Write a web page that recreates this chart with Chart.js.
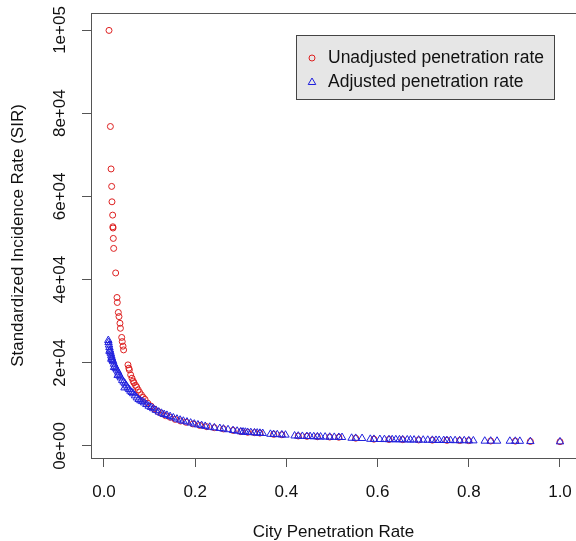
<!DOCTYPE html>
<html>
<head>
<meta charset="utf-8">
<script src="https://cdn.jsdelivr.net/npm/chart.js@4.4.1/dist/chart.umd.min.js"></script>
<style>
  html, body { margin: 0; padding: 0; background: #fff; }
  #wrap { width: 576px; height: 541px; }
</style>
</head>
<body>
<div id="wrap"><canvas id="sir-plot" width="576" height="541"></canvas></div>
<script>
// tick labels (R style)
var xTicks = [0, 0.2, 0.4, 0.6, 0.8, 1.0];
var xTickLabels = ['0.0', '0.2', '0.4', '0.6', '0.8', '1.0'];
var yTicks = [0, 20000, 40000, 60000, 80000, 100000];
var yTickLabels = ['0e+00', '2e+04', '4e+04', '6e+04', '8e+04', '1e+05'];

var seriesNames = ['Unadjusted penetration rate', 'Adjusted penetration rate'];

// unadjusted penetration rate (red circles)
var unadjRate = [0.011, 0.014, 0.0155, 0.0168, 0.0175, 0.019, 0.0195, 0.0198, 0.0204, 0.0212,
  0.0256, 0.0285, 0.0292, 0.0314, 0.0329, 0.035, 0.036, 0.0388, 0.040, 0.0417, 0.043,
  0.0526, 0.0545, 0.0556, 0.0585, 0.0614, 0.064, 0.0658, 0.069, 0.0716, 0.075, 0.078,
  0.082, 0.086, 0.090, 0.096, 0.103, 0.110, 0.118, 0.126, 0.135, 0.145, 0.156, 0.168,
  0.180, 0.195, 0.210, 0.225, 0.242, 0.262, 0.283, 0.30, 0.315, 0.33, 0.342, 0.372,
  0.39, 0.426, 0.445, 0.468, 0.495, 0.515, 0.552, 0.592, 0.625, 0.655, 0.69, 0.72,
  0.752, 0.78, 0.80, 0.848, 0.902, 0.935, 1.0];
var unadjSIR = [99900, 76800, 66600, 62400, 58700, 55500, 52700, 52400, 49900, 47500,
  41600, 35700, 34500, 32100, 31100, 29500, 28300, 26100, 25100, 24000, 23100,
  19500, 18700, 18300, 17100, 16300, 15600, 15200, 14600, 14200, 13500, 12900,
  12300, 11700, 11200, 10300, 9600, 8900, 8300, 7800, 7300, 6900, 6400, 6000,
  5700, 5300, 4950, 4650, 4400, 4100, 3750, 3450, 3300, 3200, 3100, 2800,
  2700, 2400, 2320, 2230, 2150, 2100, 1870, 1630, 1560, 1520, 1450, 1400,
  1350, 1310, 1280, 1200, 1170, 1100, 1030];

// adjusted penetration rate (blue triangles)
var adjRate = [0.0095, 0.010, 0.011, 0.012, 0.012, 0.013, 0.014, 0.015, 0.016, 0.016,
  0.017, 0.018, 0.019, 0.020, 0.022, 0.022, 0.024, 0.026, 0.028, 0.030, 0.031,
  0.033, 0.035, 0.037, 0.040, 0.043, 0.045, 0.046, 0.049, 0.052, 0.055, 0.058,
  0.061, 0.064, 0.068, 0.072, 0.076, 0.080, 0.084, 0.088, 0.093, 0.098, 0.103,
  0.108, 0.114, 0.120, 0.126, 0.132, 0.138, 0.145, 0.152, 0.160, 0.167, 0.174,
  0.182, 0.190, 0.198, 0.206, 0.214, 0.222, 0.232, 0.242, 0.254, 0.262, 0.272,
  0.283, 0.292, 0.30, 0.305, 0.31, 0.315, 0.322, 0.33, 0.336, 0.342, 0.348,
  0.365, 0.372, 0.38, 0.39, 0.398, 0.418, 0.426, 0.435, 0.445, 0.452, 0.46,
  0.468, 0.475, 0.485, 0.495, 0.505, 0.515, 0.522, 0.543, 0.552, 0.566,
  0.584, 0.592, 0.605, 0.615, 0.625, 0.632, 0.64, 0.648, 0.655, 0.665, 0.672,
  0.68, 0.69, 0.70, 0.71, 0.72, 0.728, 0.735, 0.745, 0.752, 0.76, 0.77, 0.78,
  0.79, 0.80, 0.81, 0.835, 0.848, 0.862, 0.89, 0.902, 0.912, 0.935, 1.0];
var adjSIR = [25400, 24900, 24300, 23700, 22800, 23100, 22600, 22200, 21700, 20900,
  21300, 20900, 20600, 20300, 19700, 18900, 19200, 18700, 18300, 17000, 17800,
  17300, 16800, 16400, 15800, 15400, 14000, 15000, 14500, 14000, 13600, 13200,
  12900, 12600, 12100, 11600, 11200, 10900, 10700, 10400, 10000, 9600, 9300,
  9000, 8600, 8200, 7900, 7600, 7400, 7100, 6800, 6500, 6250, 6000,
  5800, 5550, 5300, 5100, 4950, 4750, 4550, 4400, 4250, 4100, 3950,
  3750, 3600, 3450, 3400, 3350, 3300, 3250, 3200, 3150, 3100, 3050,
  2850, 2800, 2750, 2700, 2650, 2450, 2400, 2350, 2320, 2300, 2260,
  2230, 2200, 2180, 2150, 2120, 2100, 2080, 1900, 1870, 1840,
  1650, 1630, 1600, 1580, 1560, 1550, 1540, 1530, 1520, 1500, 1480,
  1470, 1450, 1440, 1420, 1400, 1390, 1380, 1360, 1350, 1340, 1320, 1310,
  1300, 1280, 1270, 1200, 1200, 1190, 1180, 1170, 1160, 1100, 1030];

var RED = '#dd2020';
var BLUE = '#2020dd';
var AXIS = '#555555';
var FONT = '"Liberation Sans", Arial, Helvetica, sans-serif';

function toPoints(xs, ys) {
  return xs.map(function(x, i) { return { x: x, y: ys[i] }; });
}

// draws R-like extras: top box line, rotated y tick labels, legend
var rExtras = {
  id: 'rExtras',
  afterDraw: function(chart) {
    var ctx = chart.ctx;
    var area = chart.chartArea;
    var yScale = chart.scales.y;
    ctx.save();
    ctx.strokeStyle = AXIS;
    ctx.lineWidth = 1;
    ctx.beginPath();
    ctx.moveTo(area.left, area.top + 0.5);
    ctx.lineTo(area.right, area.top + 0.5);
    ctx.stroke();

    ctx.fillStyle = '#111';
    ctx.font = '17px ' + FONT;
    ctx.textAlign = 'center';
    ctx.textBaseline = 'middle';
    yTicks.forEach(function(v, i) {
      ctx.save();
      ctx.translate(60, yScale.getPixelForValue(v));
      ctx.rotate(-Math.PI / 2);
      ctx.fillText(yTickLabels[i], 0, 0);
      ctx.restore();
    });

    // legend
    var lx = 296, ly = 35, lw = 258, lh = 64;
    ctx.fillStyle = '#e6e6e6';
    ctx.fillRect(lx, ly, lw, lh);
    ctx.strokeStyle = '#444';
    ctx.strokeRect(lx + 0.5, ly + 0.5, lw, lh);
    ctx.lineWidth = 1;
    ctx.strokeStyle = RED;
    ctx.beginPath();
    ctx.arc(312, 58, 3, 0, Math.PI * 2);
    ctx.stroke();
    ctx.strokeStyle = BLUE;
    ctx.beginPath();
    ctx.moveTo(312, 78);
    ctx.lineTo(315.8, 84.5);
    ctx.lineTo(308.2, 84.5);
    ctx.closePath();
    ctx.stroke();
    ctx.fillStyle = '#111';
    ctx.font = '17.5px ' + FONT;
    ctx.textAlign = 'left';
    ctx.fillText(seriesNames[0], 328, 58);
    ctx.fillText(seriesNames[1], 328, 82);
    ctx.restore();
  }
};

var ctx = document.getElementById('sir-plot').getContext('2d');
var sirChart = new Chart(ctx, {
  type: 'scatter',
  data: {
    datasets: [{
      label: seriesNames[0],
      data: toPoints(unadjRate, unadjSIR),
      pointStyle: 'circle',
      pointRadius: 3,
      borderColor: RED,
      backgroundColor: 'rgba(0,0,0,0)',
      borderWidth: 1,
      order: 2
    }, {
      label: seriesNames[1],
      data: toPoints(adjRate, adjSIR),
      pointStyle: 'triangle',
      pointRadius: 4.3,
      borderColor: BLUE,
      backgroundColor: 'rgba(0,0,0,0)',
      borderWidth: 1,
      order: 1
    }]
  },
  options: {
    responsive: false,
    animation: false,
    layout: { autoPadding: false, padding: { top: 13, left: 0, right: 0, bottom: 0 } },
    plugins: {
      legend: { display: false },
      tooltip: { enabled: false }
    },
    scales: {
      x: {
        type: 'linear',
        min: -0.0285,
        max: 1.0351,
        afterBuildTicks: function(scale) {
          scale.ticks = xTicks.map(function(v) { return { value: v }; });
        },
        afterFit: function(scale) {
          scale.height = 83;
          scale.paddingLeft = 0;
          scale.paddingRight = 0;
        },
        ticks: {
          callback: function(v, i) { return xTickLabels[i]; },
          font: { family: FONT, size: 17 },
          color: '#111',
          padding: 15,
          maxRotation: 0,
          autoSkip: false
        },
        grid: { display: true, drawOnChartArea: false, drawTicks: true, tickLength: 9, color: AXIS },
        border: { display: true, color: AXIS, width: 1 },
        title: {
          display: true,
          text: 'City Penetration Rate',
          font: { family: FONT, size: 17 },
          color: '#111',
          padding: { top: -2, bottom: -2 }
        }
      },
      y: {
        type: 'linear',
        min: -2885,
        max: 104087,
        afterBuildTicks: function(scale) {
          scale.ticks = yTicks.map(function(v) { return { value: v }; });
        },
        afterFit: function(scale) {
          scale.width = 91;
          scale.paddingTop = 0;
          scale.paddingBottom = 0;
        },
        ticks: { display: false },
        grid: { display: true, drawOnChartArea: false, drawTicks: true, tickLength: 9, color: AXIS },
        border: { display: true, color: AXIS, width: 1 },
        title: {
          display: true,
          text: 'Standardized Incidence Rate (SIR)',
          font: { family: FONT, size: 17 },
          color: '#111',
          padding: { top: 8, bottom: 8 }
        }
      }
    }
  },
  plugins: [rExtras]
});
</script>
</body>
</html>
